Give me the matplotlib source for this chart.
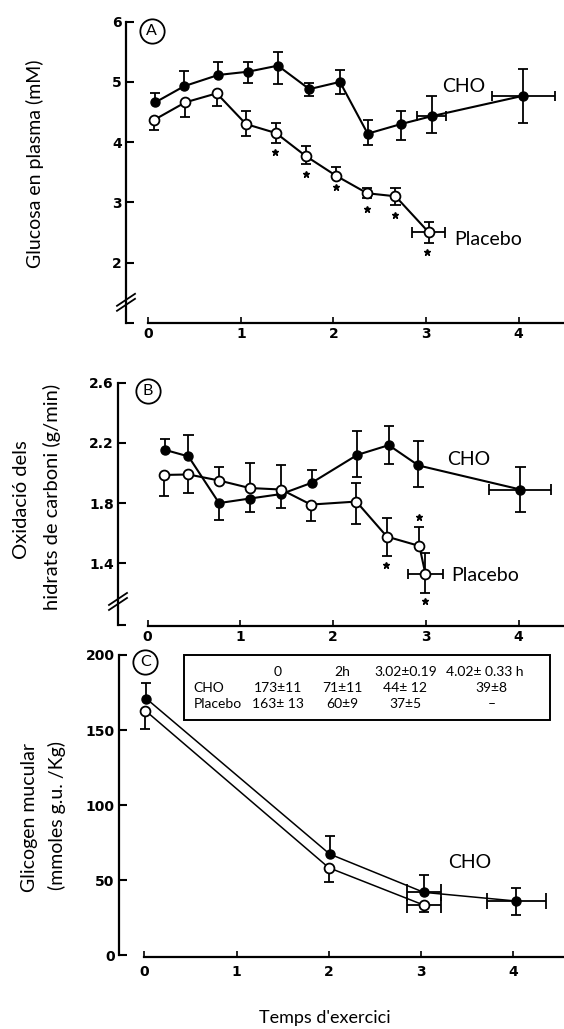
import numpy as np
import matplotlib
matplotlib.use("Agg")
import matplotlib.pyplot as plt
from matplotlib.patches import Rectangle

# ---------------- Panel A: glucosa en plasma (mM) ----------------
a_cho_x = [0.076, 0.39, 0.756, 1.08, 1.40, 1.74, 2.07, 2.37, 2.73, 3.06, 4.05]
a_cho_y = [4.66, 4.93, 5.115, 5.17, 5.27, 4.88, 5.00, 4.14, 4.30, 4.43, 4.77]
a_cho_hi = [0.15, 0.25, 0.215, 0.16, 0.22, 0.11, 0.20, 0.22, 0.22, 0.34, 0.44]
a_cho_lo = [0.0, 0.0, 0.0, 0.19, 0.30, 0.11, 0.20, 0.19, 0.26, 0.28, 0.45]
a_cho_xerr = [0, 0, 0, 0, 0, 0, 0, 0, 0, 0.16, 0.34]

a_pla_x = [0.065, 0.40, 0.74, 1.055, 1.38, 1.70, 2.03, 2.365, 2.67, 3.03]
a_pla_y = [4.37, 4.66, 4.81, 4.30, 4.15, 3.77, 3.44, 3.15, 3.10, 2.50]
a_pla_hi = [0.0, 0.0, 0.0, 0.21, 0.16, 0.16, 0.15, 0.08, 0.13, 0.18]
a_pla_lo = [0.17, 0.24, 0.21, 0.20, 0.16, 0.13, 0.0, 0.08, 0.14, 0.18]
a_pla_xerr = [0, 0, 0, 0, 0, 0, 0, 0, 0, 0.18]
a_sig_x = [1.37, 1.70, 2.03, 2.36, 2.67, 3.01]
a_sig_y = [3.84, 3.47, 3.25, 2.89, 2.79, 2.18]

# ---------------- Panel B: oxidacio dels hidrats de carboni (g/min) ----------------
b_cho_x = [0.19, 0.44, 0.77, 1.10, 1.44, 1.77, 2.26, 2.60, 2.92, 4.02]
b_cho_y = [2.153, 2.11, 1.80, 1.83, 1.86, 1.935, 2.12, 2.185, 2.05, 1.89]
b_cho_hi = [0.07, 0.14, 0.0, 0.0, 0.0, 0.085, 0.16, 0.125, 0.16, 0.15]
b_cho_lo = [0.0, 0.0, 0.11, 0.09, 0.09, 0.0, 0.145, 0.125, 0.145, 0.15]
b_cho_xerr = [0, 0, 0, 0, 0, 0, 0, 0, 0, 0.335]

b_pla_x = [0.18, 0.44, 0.77, 1.10, 1.44, 1.76, 2.25, 2.58, 2.93, 2.995]
b_pla_y = [1.987, 1.99, 1.95, 1.90, 1.89, 1.79, 1.81, 1.577, 1.515, 1.33]
b_pla_hi = [0.0, 0.0, 0.09, 0.165, 0.16, 0.0, 0.125, 0.123, 0.125, 0.14]
b_pla_lo = [0.137, 0.125, 0.0, 0.0, 0.0, 0.11, 0.15, 0.127, 0.0, 0.13]
b_pla_xerr = [0, 0, 0, 0, 0, 0, 0, 0, 0, 0.185]
b_sig_x = [2.57, 2.93, 2.99]
b_sig_y = [1.39, 1.71, 1.15]

# ---------------- Panel C: glicogen muscular ----------------
c_cho_x = [0.02, 2.01, 3.03, 4.03]
c_cho_y = [171, 67.3, 41.8, 36]
c_cho_hi = [10.5, 12, 11.5, 8.5]
c_cho_lo = [0, 0, 0, 9]
c_cho_xerr = [0, 0, 0.185, 0.32]

c_pla_x = [0.01, 2.0, 3.03]
c_pla_y = [163, 58.2, 33.3]
c_pla_hi = [0, 0, 0]
c_pla_lo = [12, 9.7, 4.3]
c_pla_xerr = [0, 0, 0.185]

table_head = ["0", "2h", "3.02\u00b10.19", "4.02\u00b1 0.33 h"]
table_cho = ["173\u00b111", "71\u00b111", "44\u00b1 12", "39\u00b18"]
table_pla = ["163\u00b1 13", "60\u00b19", "37\u00b15", "\u2013"]

x_ticks = [0, 1, 2, 3, 4]

FONT = "Lato"
TICKFONT = dict(family="DejaVu Sans", weight="bold", size=10)

fig = plt.figure(figsize=(5.64, 10.29), dpi=100)
H = 1029.0
W = 564.0


def add_axes(left_px, top_px, bottom_px):
    return fig.add_axes([left_px / W, 1 - bottom_px / H, (W - left_px) / W,
                         (bottom_px - top_px) / H])


def err(ax, x, y, lo, hi, xe, capx, capy, lw=1.3):
    x = np.asarray(x, float); y = np.asarray(y, float)
    lo = np.asarray(lo, float); hi = np.asarray(hi, float); xe = np.asarray(xe, float)
    m = (lo > 0) | (hi > 0)
    ax.vlines(x[m], (y - lo)[m], (y + hi)[m], color="k", lw=lw, zorder=2)
    mh = hi > 0
    ax.hlines((y + hi)[mh], (x - capx)[mh], (x + capx)[mh], color="k", lw=lw, zorder=2)
    ml = lo > 0
    ax.hlines((y - lo)[ml], (x - capx)[ml], (x + capx)[ml], color="k", lw=lw, zorder=2)
    mx = xe > 0
    ax.hlines(y[mx], (x - xe)[mx], (x + xe)[mx], color="k", lw=lw, zorder=2)
    ax.vlines((x - xe)[mx], (y - capy)[mx], (y + capy)[mx], color="k", lw=lw, zorder=2)
    ax.vlines((x + xe)[mx], (y - capy)[mx], (y + capy)[mx], color="k", lw=lw, zorder=2)


def series(ax, x, y, filled, lw=1.5, ms=6.5):
    ax.plot(x, y, "-", color="k", lw=lw, zorder=3)
    if filled:
        ax.plot(x, y, "o", ms=ms, mfc="k", mec="k", mew=1.0, zorder=4, clip_on=False)
    else:
        ax.plot(x, y, "o", ms=ms + 0.6, mfc="white", mec="k", mew=1.3, zorder=4, clip_on=False)


def style(ax, xlim, ylim, spine_lo, yticks, ylabels, xpad=3, foot=True):
    ax.set_xlim(*xlim)
    ax.set_ylim(*ylim)
    for s in ["top", "right"]:
        ax.spines[s].set_visible(False)
    ax.spines["left"].set_linewidth(1.6)
    ax.spines["bottom"].set_linewidth(1.6)
    ax.spines["bottom"].set_bounds(0, xlim[1])
    ax.spines["left"].set_bounds(spine_lo, yticks[-1])
    ax.set_yticks(yticks)
    ax.set_yticklabels(ylabels, fontdict=TICKFONT)
    if foot:
        ax.set_yticks([spine_lo], minor=True)
    ax.tick_params(axis="y", which="both", direction="in", length=6, width=1.5, pad=3)
    ax.set_xticks(x_ticks)
    ax.set_xticklabels([str(t) for t in x_ticks], fontdict=TICKFONT)
    ax.tick_params(axis="x", direction="in", length=4, width=1.2, pad=xpad)
    ax.patch.set_alpha(0)


def brk(ax, yfrac, wpx, hpx):
    dx = 9.0 / wpx
    dy = 6.0 / hpx
    g = 5.0 / hpx
    for off in (0, -g):
        ax.plot([-dx, dx], [yfrac - dy + off, yfrac + dy + off], color="k", lw=1.3,
                transform=ax.transAxes, clip_on=False, zorder=5)


def circ(ax, fx, fy, letter):
    ax.plot([fx], [fy], "o", ms=17.5, mfc="white", mec="k", mew=1.3,
            transform=ax.transAxes, clip_on=False, zorder=5)
    ax.text(fx, fy, letter, transform=ax.transAxes, ha="center", va="center",
            fontsize=11.5, family=FONT, zorder=6)


# ---------------- Panel A ----------------
axA = add_axes(126, 21.7, 322.7)
err(axA, a_cho_x, a_cho_y, a_cho_lo, a_cho_hi, a_cho_xerr, 0.055, 0.085)
err(axA, a_pla_x, a_pla_y, a_pla_lo, a_pla_hi, a_pla_xerr, 0.055, 0.085)
series(axA, a_cho_x, a_cho_y, True)
series(axA, a_pla_x, a_pla_y, False)
axA.plot(a_sig_x, a_sig_y, "*", ms=5, color="k", zorder=5)
style(axA, (-0.24, 4.49), (1.0, 6.0), 1.0, [2, 3, 4, 5, 6], ["2", "3", "4", "5", "6"])
axA.text(3.17, 4.93, "CHO", fontsize=14, family=FONT, va="center", ha="left")
axA.text(3.30, 2.38, "Placebo", fontsize=14, family=FONT, va="center", ha="left")
brk(axA, 0.076, 438, 301)
circ(axA, 0.059, 0.970, "A")

# ---------------- Panel B ----------------
axB = add_axes(118, 382.7, 625.7)
err(axB, b_cho_x, b_cho_y, b_cho_lo, b_cho_hi, b_cho_xerr, 0.055, 0.034)
err(axB, b_pla_x, b_pla_y, b_pla_lo, b_pla_hi, b_pla_xerr, 0.055, 0.034)
series(axB, b_cho_x, b_cho_y, True)
series(axB, b_pla_x, b_pla_y, False)
axB.plot(b_sig_x, b_sig_y, "*", ms=5, color="k", zorder=5)
style(axB, (-0.32, 4.49), (0.985, 2.6), 0.99, [1.4, 1.8, 2.2, 2.6],
      ["1.4", "1.8", "2.2", "2.6"])
axB.text(3.23, 2.09, "CHO", fontsize=14, family=FONT, va="center", ha="left")
axB.text(3.275, 1.32, "Placebo", fontsize=14, family=FONT, va="center", ha="left")
brk(axB, 0.11, 446, 243)
circ(axB, 0.067, 0.967, "B")

# ---------------- Panel C ----------------
axC = add_axes(118.7, 655, 956.7)
err(axC, c_cho_x, c_cho_y, c_cho_lo, c_cho_hi, c_cho_xerr, 0.055, 5.5)
err(axC, c_pla_x, c_pla_y, c_pla_lo, c_pla_hi, c_pla_xerr, 0.055, 5.5)
series(axC, c_cho_x, c_cho_y, True, lw=1.1)
series(axC, c_pla_x, c_pla_y, False, lw=1.1)
style(axC, (-0.278, 4.55), (-1.1, 200), 0, [0, 50, 100, 150, 200],
      ["0", "50", "100", "150", "200"], xpad=6, foot=False)
axC.text(3.29, 61.5, "CHO", fontsize=14, family=FONT, va="center", ha="left")
circ(axC, 0.060, 0.978, "C")

# table box
axC.add_patch(Rectangle((0.147, 0.785), 0.968 - 0.147, 1.0 - 0.785, transform=axC.transAxes,
                        fill=False, lw=1.4, ec="k", clip_on=False, zorder=5))
col_x = [0.358, 0.502, 0.644, 0.822]
val_x = [0.358, 0.502, 0.644, 0.837]
rows_y = [0.945, 0.890, 0.838]
tk = dict(transform=axC.transAxes, fontsize=10, family=FONT, va="center")
for cx, s in zip(col_x, table_head):
    axC.text(cx, rows_y[0], s, ha="center", **tk)
axC.text(0.168, rows_y[1], "CHO", ha="left", **tk)
axC.text(0.168, rows_y[2], "Placebo", ha="left", **tk)
for cx, s in zip(val_x, table_cho):
    axC.text(cx, rows_y[1], s, ha="center", **tk)
for cx, s in zip(val_x, table_pla):
    axC.text(cx, rows_y[2], s, ha="center", **tk)

# axis titles
fig.text(35 / W, 1 - 164 / H, "Glucosa en plasma (mM)", rotation=90, ha="center",
         va="center", fontsize=14, family=FONT)
fig.text(22 / W, 1 - 500 / H, "Oxidaci\u00f3 dels", rotation=90, ha="center",
         va="center", fontsize=14.5, family=FONT)
fig.text(52 / W, 1 - 497 / H, "hidrats de carboni (g/min)", rotation=90, ha="center",
         va="center", fontsize=14.5, family=FONT)
fig.text(30 / W, 1 - 818 / H, "Glicogen mucular", rotation=90, ha="center",
         va="center", fontsize=14, family=FONT)
fig.text(57 / W, 1 - 815 / H, "(mmoles g.u. /Kg)", rotation=90, ha="center",
         va="center", fontsize=14, family=FONT)
fig.text(325 / W, 1 - 1018 / H, "Temps d'exercici", ha="center", va="center",
         fontsize=13, family=FONT)

fig.savefig("out.png", dpi=100)
